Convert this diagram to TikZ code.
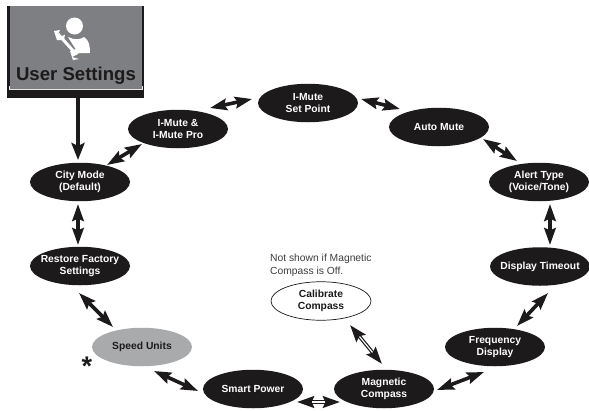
\documentclass[tikz,border=0pt]{standalone}
\usepackage{fontspec}
\setmainfont{Liberation Sans}
\usetikzlibrary{shapes.geometric,arrows.meta}
\definecolor{ink}{HTML}{1C1A1B}
\definecolor{boxgray}{HTML}{7E7F82}
\definecolor{speedgray}{HTML}{A9AAAC}
\tikzset{
  oval/.style={ellipse,minimum width=100pt,minimum height=38.5pt,inner xsep=-20pt,inner ysep=0pt,outer sep=0pt,
    align=center,font=\fontsize{10.3}{11.8}\selectfont\bfseries},
  darkoval/.style={oval,fill=ink,text=white},
  lightoval/.style={oval,draw=ink,line width=.7pt,fill=white,text=ink},
  grayoval/.style={oval,fill=speedgray,text=ink},
  twoway/.style={draw=ink,line width=3.6pt,{Stealth[length=17pt,width=11.5pt,inset=2.5pt]}-{Stealth[length=17pt,width=11.5pt,inset=2.5pt]}},
  oneway/.style={draw=ink,line width=4pt,-{Stealth[length=17pt,width=13pt,inset=3pt]},shorten >=1pt},
  hollow/.style={draw=white,line width=1.2pt,shorten <=15pt,shorten >=15pt},
}
\begin{document}
\begin{tikzpicture}[x=1pt,y=-1pt]
\useasboundingbox (0,0) rectangle (589,410);
% User Settings button
\fill[ink] (7,6) rectangle (144,98);
\fill[boxgray] (9.5,6) rectangle (141.5,90);
\draw[white!80!boxgray,line width=.5pt] (9,86) -- (9,89) -- (142,89) -- (142,86);
\fill[white] (74.5,26) circle (8.5);
\fill[white] (68,37) .. controls (74,40) and (80,40) .. (84,37) .. controls (89,40) and (90,46) .. (90,53)
  -- (78,53) -- cycle;
\draw[boxgray,line width=6pt] (58,34) -- (76,54);
\draw[white,line width=3pt] (58,34) -- (76,54);
\fill[white] (54,31) -- (60,30) -- (58,34) -- (61,36.5) -- (65,34.5) -- (64,40) -- (57,40) -- cycle;
\fill[white] (70,51) -- (76,49) -- (79,52) -- (78,54) -- (72,57) -- (79,59) -- (73,60) -- cycle;
\node[font=\fontsize{18.6}{20}\selectfont\bfseries,text=ink,inner sep=0pt] (user) at (76,76) {User Settings};
\coordinate (boxbottom) at (78,98);
% States
\node[darkoval] (setpoint) at (308,103) {I-Mute\\Set Point};
\node[darkoval] (automute) at (439,127) {Auto Mute};
\node[darkoval] (alert) at (539,182) {Alert Type\\(Voice/Tone)};
\node[darkoval] (timeout) at (540,266.5) {Display Timeout};
\node[darkoval] (freq) at (495,347) {Frequency\\Display};
\node[darkoval] (magnetic) at (384,389) {Magnetic\\Compass};
\node[darkoval] (smart) at (253,389) {Smart Power};
\node[grayoval] (speed) at (142,347) {Speed Units};
\node[darkoval] (restore) at (80,266) {Restore Factory\\Settings};
\node[darkoval] (city) at (80,182) {City Mode\\(Default)};
\node[darkoval] (imute) at (178,129) {I-Mute \&\\I-Mute Pro};
\node[lightoval] (calibrate) at (321,301) {Calibrate\\Compass};
% Notes
\node[anchor=west,align=left,inner sep=0pt,text=ink!85,font=\fontsize{10.3}{13}\selectfont] (note) at (270,265.5) {Not shown if Magnetic\\Compass is Off.};
\node[inner sep=0pt,text=ink,font=\fontsize{27}{27}\selectfont\bfseries] (star) at (87,366) {*};
% Connectors
\draw[oneway] (boxbottom) -- ([shift={(-2,-21)}]city.center);
\draw[twoway] ([shift={(-2,22)}]city.center) -- ([shift={(-2,-21)}]restore.center);
\draw[twoway] ([shift={(27,-17)}]city.center) -- ([shift={(-36,15)}]imute.center);
\draw[twoway] ([shift={(32,-21)}]imute.center) -- ([shift={(-56,-4)}]setpoint.center);
\draw[twoway] ([shift={(53,-4)}]setpoint.center) -- ([shift={(-39,-18)}]automute.center);
\draw[twoway] ([shift={(44,12)}]automute.center) -- ([shift={(-22,-21)}]alert.center);
\draw[twoway] ([shift={(11,22)}]alert.center) -- ([shift={(10,-21.5)}]timeout.center);
\draw[twoway] ([shift={(8,26.5)}]timeout.center) -- ([shift={(22,-21)}]freq.center);
\draw[twoway] ([shift={(-11,25)}]freq.center) -- ([shift={(53,1)}]magnetic.center);
\draw[twoway] ([shift={(-44,13)}]magnetic.center) -- ([shift={(44,13)}]smart.center);
\draw[twoway] ([shift={(-55,2)}]smart.center) -- ([shift={(12,24)}]speed.center);
\draw[twoway] ([shift={(-29,-20)}]speed.center) -- ([shift={(-1,27)}]restore.center);
\draw[twoway] ([shift={(29,24)}]calibrate.center) -- ([shift={(-2,-25)}]magnetic.center);
\draw[hollow] ([shift={(29,24)}]calibrate.center) -- ([shift={(-2,-25)}]magnetic.center);
\draw[hollow] ([shift={(-44,13)}]magnetic.center) -- ([shift={(44,13)}]smart.center);
\end{tikzpicture}
\end{document}
